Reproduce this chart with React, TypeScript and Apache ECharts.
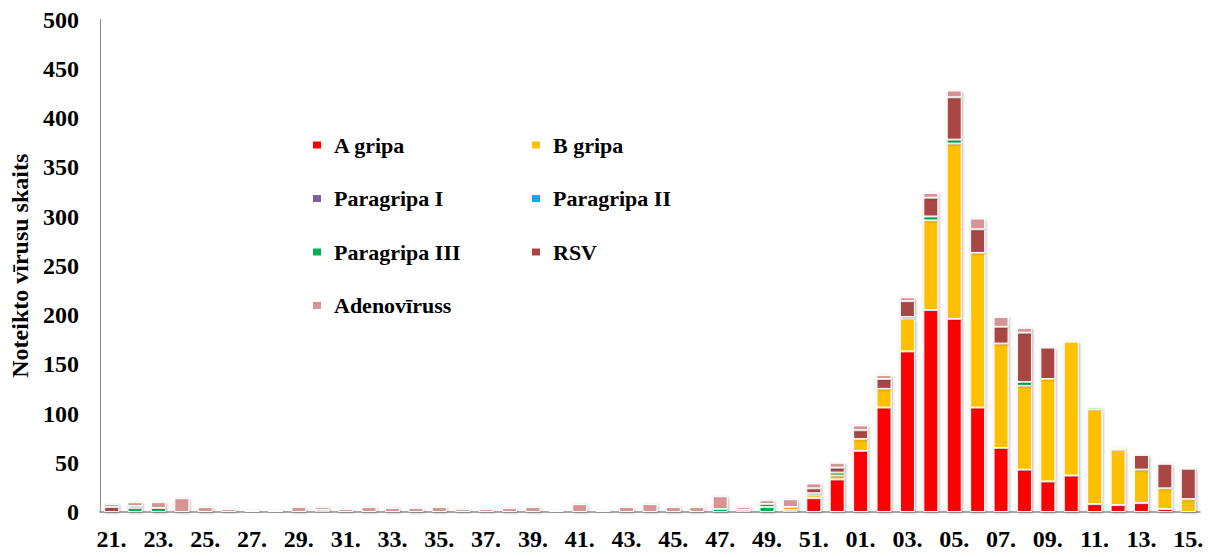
import React, { useEffect, useRef } from "react";
import * as echarts from "echarts";

const weeks = [
  "21.", "22.", "23.", "24.", "25.", "26.", "27.", "28.", "29.", "30.",
  "31.", "32.", "33.", "34.", "35.", "36.", "37.", "38.", "39.", "40.",
  "41.", "42.", "43.", "44.", "45.", "46.", "47.", "48.", "49.", "50.",
  "51.", "52.", "01.", "02.", "03.", "04.", "05.", "06.", "07.", "08.",
  "09.", "10.", "11.", "12.", "13.", "14.", "15.",
];

const aGripa = [
  0, 0, 0, 0, 0, 0, 0, 0, 0, 0,
  0, 0, 0, 0, 0, 0, 0, 0, 0, 0,
  0, 0, 0, 0, 0, 0, 0, 0, 0, 2,
  14, 33, 62, 106, 163, 205, 196, 106, 65, 43,
  31, 37, 8, 7, 9, 3, 0,
];
const bGripa = [
  0, 0, 0, 0, 0, 0, 0, 0, 0, 0,
  0, 0, 0, 0, 0, 0, 0, 0, 0, 0,
  0, 0, 0, 0, 0, 0, 0, 0, 0, 3,
  3, 4, 12, 19, 33, 91, 178, 157, 106, 85,
  104, 136, 96, 56, 34, 21, 13,
];
const paragripaI = [
  0, 0, 0, 0, 0, 0, 0, 0, 0, 0,
  0, 0, 0, 0, 0, 0, 0, 0, 0, 0,
  0, 0, 0, 0, 0, 0, 0, 0, 0, 0,
  0, 0, 0, 0, 0, 0, 0, 0, 0, 0,
  0, 0, 0, 0, 0, 0, 0,
];
const paragripaII = [
  0, 0, 0, 0, 0, 0, 0, 0, 0, 0,
  0, 0, 0, 0, 0, 0, 0, 0, 0, 0,
  0, 0, 0, 0, 0, 0, 0, 0, 0, 0,
  0, 0, 0, 0, 0, 0, 0, 0, 0, 0,
  0, 0, 0, 0, 0, 0, 0,
];
const paragripaIII = [
  0, 4, 4, 0, 0, 0, 0, 0, 0, 0,
  0, 0, 0, 0, 0, 0, 0, 0, 0, 0,
  0, 0, 0, 0, 0, 0, 3, 0, 5, 0,
  2, 3, 0, 0, 2, 4, 4, 0, 0, 4,
  0, 0, 2, 2, 0, 0, 0,
];
const rsv = [
  5, 2, 0, 0, 0, 0, 0, 0, 0, 2,
  0, 0, 0, 0, 0, 0, 0, 0, 0, 0,
  0, 0, 0, 0, 0, 0, 0, 2, 3, 0,
  5, 5, 9, 10, 16, 19, 43, 24, 17, 50,
  32, 0, 0, 0, 15, 25, 31,
];
const adenovirus = [
  3, 4, 6, 14, 5, 3, 2, 2, 5, 3,
  3, 5, 4, 4, 5, 3, 3, 4, 5, 2,
  8, 2, 5, 8, 5, 5, 13, 3, 4, 8,
  5, 5, 5, 4, 4, 5, 7, 11, 10, 5,
  0, 0, 0, 0, 0, 0, 0,
];

const yTicks = [0, 50, 100, 150, 200, 250, 300, 350, 400, 450, 500];

const seriesDefs = [
  { name: "A gripa", data: aGripa, color: "#FF0000" },
  { name: "B gripa", data: bGripa, color: "#FFC000" },
  { name: "Paragripa I", data: paragripaI, color: "#7F60A0" },
  { name: "Paragripa II", data: paragripaII, color: "#00B0F0" },
  { name: "Paragripa III", data: paragripaIII, color: "#00B050" },
  { name: "RSV", data: rsv, color: "#A94644" },
  { name: "Adenovīruss", data: adenovirus, color: "#D69594" },
];

const FONT = "'Liberation Serif', 'Times New Roman', serif";

export default function App() {
  const ref = useRef<HTMLDivElement>(null);
  useEffect(() => {
    if (!ref.current) return;
    const chart = echarts.init(ref.current, undefined, { renderer: "svg" });
    const legendText = {
      fontFamily: FONT,
      fontWeight: "bold" as const,
      fontSize: 22,
      color: "#000",
      padding: [0, 0, 0, 7],
    };
    chart.setOption({
      animation: false,
      backgroundColor: "#fff",
      grid: { left: 97, right: 12, top: 19.5, bottom: 45, containLabel: false },
      legend: [
        {
          orient: "vertical",
          left: 306,
          top: 129,
          itemWidth: 10,
          itemHeight: 9,
          itemGap: 31.5,
          icon: "rect",
          textStyle: legendText,
          data: ["A gripa", "Paragripa I", "Paragripa III", "Adenovīruss"],
        },
        {
          orient: "vertical",
          left: 525,
          top: 129,
          itemWidth: 10,
          itemHeight: 9,
          itemGap: 31.5,
          icon: "rect",
          textStyle: legendText,
          data: ["B gripa", "Paragripa II", "RSV"],
        },
      ],
      xAxis: {
        type: "category",
        data: weeks,
        axisTick: { show: false },
        axisLine: { lineStyle: { color: "#8c8c8c", width: 1.5 } },
        axisLabel: {
          interval: 1,
          margin: 15,
          fontFamily: FONT,
          fontWeight: "bold",
          fontSize: 24,
          color: "#000",
        },
      },
      yAxis: {
        type: "value",
        min: yTicks[0],
        max: yTicks[yTicks.length - 1],
        interval: 50,
        name: "Noteikto vīrusu skaits",
        nameLocation: "middle",
        nameGap: 66,
        nameTextStyle: {
          fontFamily: FONT,
          fontWeight: "bold",
          fontSize: 24,
          color: "#000",
        },
        axisLine: { show: true, lineStyle: { color: "#8c8c8c", width: 1 } },
        axisTick: { show: false },
        splitLine: { show: false },
        axisLabel: {
          margin: 21,
          fontFamily: FONT,
          fontWeight: "bold",
          fontSize: 24,
          color: "#000",
        },
      },
      series: seriesDefs.map((s) => ({
        name: s.name,
        type: "bar",
        stack: "total",
        barWidth: 15,
        data: s.data.map((v) => (v === 0 ? "-" : v)),
        itemStyle: {
          color: s.color,
          borderColor: "#fff",
          borderWidth: 1,
          shadowColor: "rgba(0,0,0,0.3)",
          shadowBlur: 3,
          shadowOffsetX: 1,
          shadowOffsetY: 1,
        },
      })),
    });
    return () => chart.dispose();
  }, []);
  return (
    <div
      ref={ref}
      style={{ position: "fixed", left: 0, top: 0, width: 1212, height: 557 }}
    />
  );
}
